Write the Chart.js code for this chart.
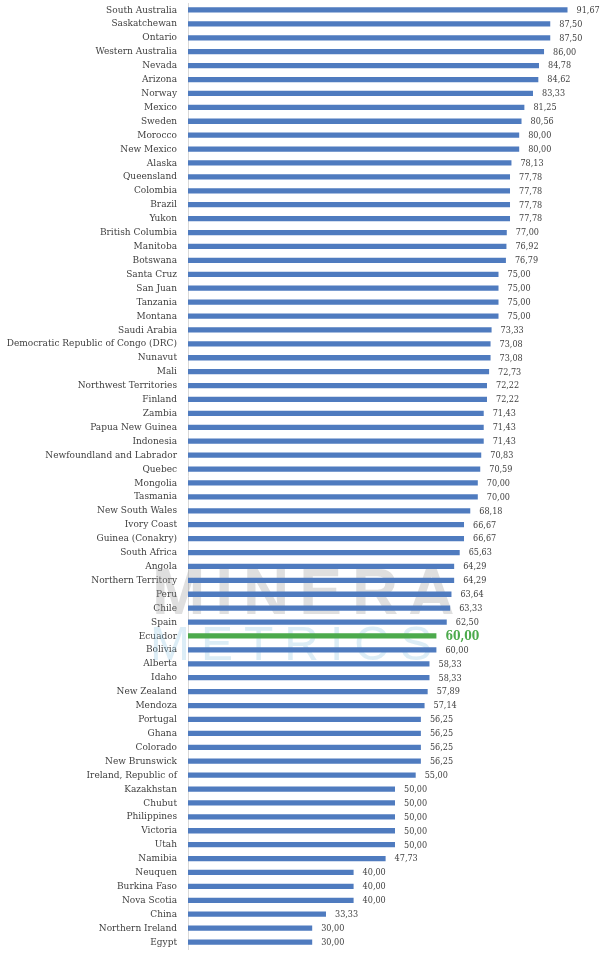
<!DOCTYPE html>
<html>
<head>
<meta charset="utf-8">
<script src="https://cdn.jsdelivr.net/npm/chart.js@4/dist/chart.umd.min.js"></script>
<style>
    html, body { margin: 0; padding: 0; background: #fff; }
    #wrap { width: 614px; height: 958px; position: relative; }
</style>
</head>
<body>
<div id="wrap"><canvas id="scoreChart"></canvas></div>
<script>
// Jurisdictions, top to bottom as in the picture
const jurisdictions = [
    'South Australia', 'Saskatchewan', 'Ontario', 'Western Australia', 'Nevada',
    'Arizona', 'Norway', 'Mexico', 'Sweden', 'Morocco', 'New Mexico', 'Alaska',
    'Queensland', 'Colombia', 'Brazil', 'Yukon', 'British Columbia', 'Manitoba',
    'Botswana', 'Santa Cruz', 'San Juan', 'Tanzania', 'Montana', 'Saudi Arabia',
    'Democratic Republic of Congo (DRC)', 'Nunavut', 'Mali', 'Northwest Territories',
    'Finland', 'Zambia', 'Papua New Guinea', 'Indonesia', 'Newfoundland and Labrador',
    'Quebec', 'Mongolia', 'Tasmania', 'New South Wales', 'Ivory Coast',
    'Guinea (Conakry)', 'South Africa', 'Angola', 'Northern Territory', 'Peru',
    'Chile', 'Spain', 'Ecuador', 'Bolivia', 'Alberta', 'Idaho', 'New Zealand',
    'Mendoza', 'Portugal', 'Ghana', 'Colorado', 'New Brunswick',
    'Ireland, Republic of', 'Kazakhstan', 'Chubut', 'Philippines', 'Victoria',
    'Utah', 'Namibia', 'Neuquen', 'Burkina Faso', 'Nova Scotia', 'China',
    'Northern Ireland', 'Egypt'
];

const scores = [
    91.67, 87.50, 87.50, 86.00, 84.78,
    84.62, 83.33, 81.25, 80.56, 80.00, 80.00, 78.13,
    77.78, 77.78, 77.78, 77.78, 77.00, 76.92,
    76.79, 75.00, 75.00, 75.00, 75.00, 73.33,
    73.08, 73.08, 72.73, 72.22,
    72.22, 71.43, 71.43, 71.43, 70.83,
    70.59, 70.00, 70.00, 68.18, 66.67,
    66.67, 65.63, 64.29, 64.29, 63.64,
    63.33, 62.50, 60.00, 60.00, 58.33, 58.33, 57.89,
    57.14, 56.25, 56.25, 56.25, 56.25,
    55.00, 50.00, 50.00, 50.00, 50.00,
    50.00, 47.73, 40.00, 40.00, 40.00, 33.33,
    30.00, 30.00
];

const highlighted = 'Ecuador';

const blue = '#4f7bbf';
const green = '#4caa4c';
const textGray = '#3f3f3f';
const serif = '"DejaVu Serif Condensed", "Liberation Serif", serif';

const barColors = jurisdictions.map(name => name === highlighted ? green : blue);

function formatScore(v) {
    return v.toFixed(2).replace('.', ',');
}

// faint "MINERA METRICS" watermark behind the bars
const watermark = {
    id: 'watermark',
    beforeDatasetsDraw(chart) {
        const ctx = chart.ctx;
        const area = chart.chartArea;
        ctx.save();
        ctx.textBaseline = 'alphabetic';
        ctx.textAlign = 'left';

        ctx.font = 'bold 64px "Liberation Sans", Arial, sans-serif';
        ctx.letterSpacing = '10px';
        ctx.fillStyle = 'rgba(150, 150, 150, 0.30)';
        ctx.fillText('MINERA', area.left - 36, 614);

        ctx.font = '48px "Liberation Sans", Arial, sans-serif';
        ctx.letterSpacing = '11px';
        ctx.fillStyle = 'rgba(140, 195, 225, 0.30)';
        ctx.fillText('METRICS', area.left - 38, 660);
        ctx.restore();
    }
};

// value labels at the end of each bar
const valueLabels = {
    id: 'valueLabels',
    afterDatasetsDraw(chart) {
        const ctx = chart.ctx;
        const meta = chart.getDatasetMeta(0);
        ctx.save();
        ctx.textAlign = 'left';
        ctx.textBaseline = 'middle';
        meta.data.forEach((bar, i) => {
            const isHighlight = jurisdictions[i] === highlighted;
            if (isHighlight) {
                ctx.font = 'bold 12px ' + serif;
                ctx.fillStyle = green;
            } else {
                ctx.font = '9px ' + serif;
                ctx.fillStyle = textGray;
            }
            ctx.fillText(formatScore(scores[i]), bar.x + 9, bar.y + 0.5);
        });
        ctx.restore();
    }
};

const ctx = document.getElementById('scoreChart');

new Chart(ctx, {
    type: 'bar',
    data: {
        labels: jurisdictions,
        datasets: [{
            label: 'Score',
            data: scores,
            backgroundColor: barColors,
            borderWidth: 0,
            barPercentage: 0.9,
            categoryPercentage: 0.42
        }]
    },
    options: {
        indexAxis: 'y',
        responsive: true,
        maintainAspectRatio: false,
        animation: false,
        layout: {
            padding: { top: 3, right: 12, bottom: 9, left: 0 }
        },
        plugins: {
            legend: { display: false },
            tooltip: { enabled: false }
        },
        scales: {
            x: {
                display: false,
                min: 0,
                max: 100
            },
            y: {
                afterFit: function(scale) {
                    scale.width = 188;
                    scale.paddingTop = 0;
                    scale.paddingBottom = 0;
                },
                grid: { display: false, drawTicks: false },
                border: { display: true, color: '#d9d9d9', width: 1 },
                ticks: {
                    autoSkip: false,
                    padding: 11,
                    color: textGray,
                    font: { family: serif, size: 10 }
                }
            }
        }
    },
    plugins: [watermark, valueLabels]
});
</script>
</body>
</html>
